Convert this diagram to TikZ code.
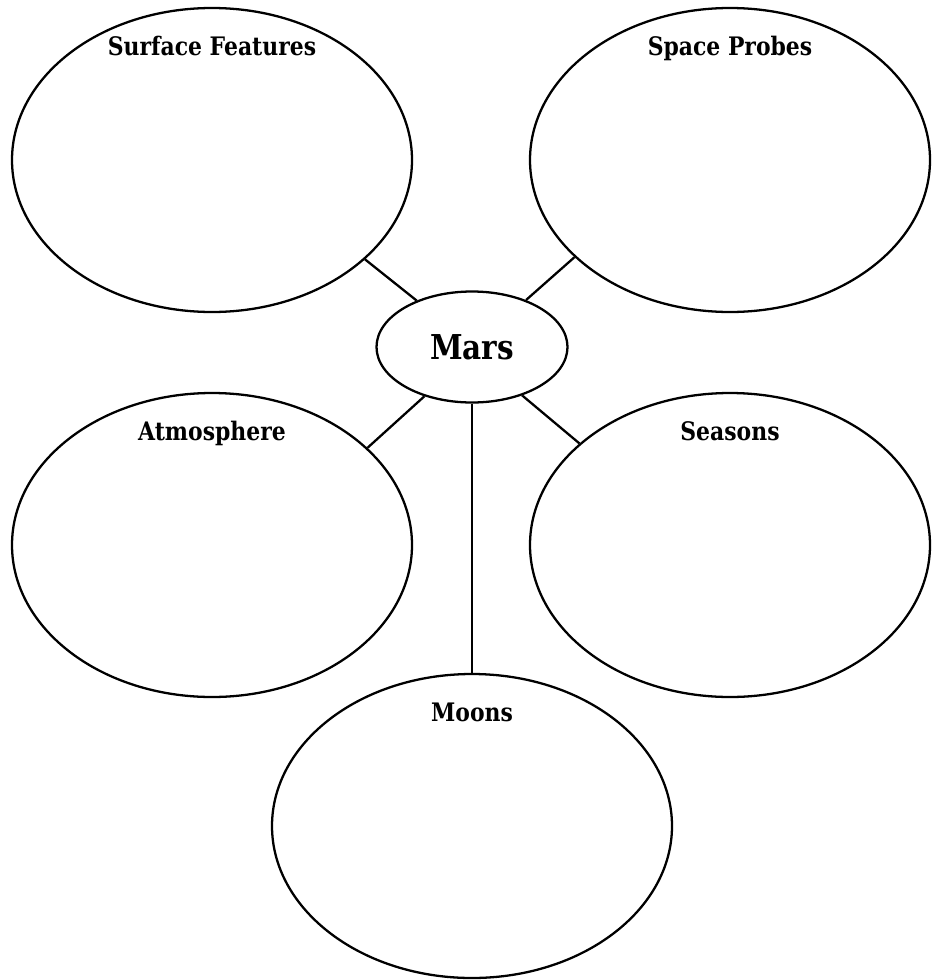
\documentclass[tikz,border=0pt]{standalone}
\usepackage{fontspec}
\setmainfont{DejaVu Serif}[FakeStretch=0.86]
\usetikzlibrary{shapes.geometric,positioning}

\tikzset{
  bubble/.style={ellipse,draw,line width=1.3pt,minimum width=8cm,minimum height=6.08cm},
  topic/.style={anchor=base,font=\fontsize{14.5}{16}\selectfont\bfseries},
  link/.style={-,line width=1.3pt},
}

\begin{document}
\begin{tikzpicture}
\useasboundingbox (0,0) rectangle (18.64,-19.6);
\node[ellipse,draw,line width=1.3pt,minimum width=3.82cm,minimum height=2.22cm,font=\fontsize{19.5}{22}\selectfont\bfseries] (mars) at (9.44,-6.94) {Mars};
\node[bubble] (sf) at (4.24,-3.2) {};
\node[bubble,xshift=10.36cm] (sp) at (sf) {};
\node[bubble,yshift=-7.7cm] (at) at (sf) {};
\node[bubble,yshift=-7.7cm] (se) at (sp) {};
\node[bubble] (moons) at (9.44,-16.52) {};
\node[topic] at ([yshift=-0.98cm] sf.north) {Surface Features};
\node[topic] at ([yshift=-0.98cm] sp.north) {Space Probes};
\node[topic] at ([yshift=-0.98cm] at.north) {Atmosphere};
\node[topic] at ([yshift=-0.98cm] se.north) {Seasons};
\node[topic] at ([yshift=-0.98cm] moons.north) {Moons};
\draw[link] (mars.140) -- (sf.-33);
\draw[link] (mars.41) -- (sp.212);
\draw[link] (mars.226) -- (at.32);
\draw[link] (mars.316) -- (se.146);
\draw[link] (mars.south) -- (moons.north);
\end{tikzpicture}
\end{document}
